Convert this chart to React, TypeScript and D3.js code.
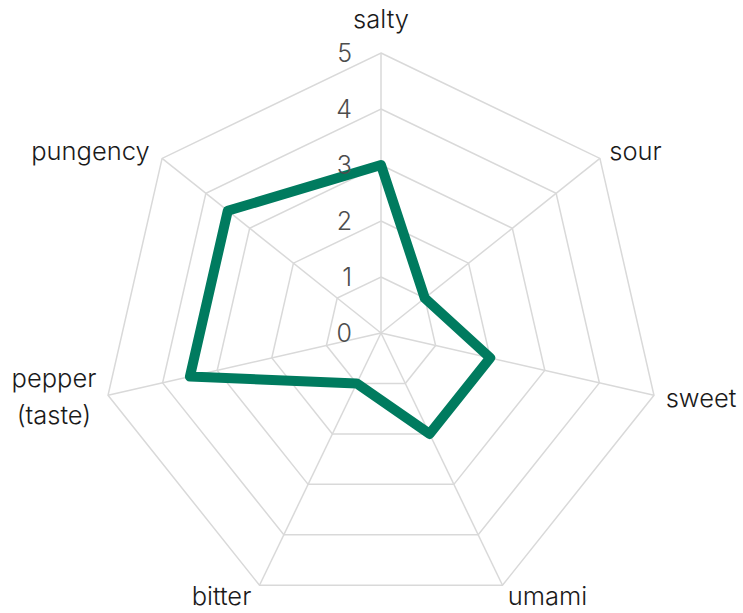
import { useMemo } from "react";
import * as d3 from "d3";

const categories = ["salty", "sour", "sweet", "umami", "bitter", "pepper\n(taste)", "pungency"];
const values = [3, 1, 2, 2, 1, 3.5, 3.5];
const ticks = [0, 1, 2, 3, 4, 5];

const WIDTH = 743;
const HEIGHT = 613;
const FONT = "Inter, 'Noto Sans', sans-serif";

const measureCtx = (() => {
  if (typeof document === "undefined") return null;
  const c = document.createElement("canvas");
  return c.getContext("2d");
})();

function textWidth(s: string, size: number) {
  if (!measureCtx) return s.length * size * 0.55;
  measureCtx.font = `300 ${size}px ${FONT}`;
  return measureCtx.measureText(s).width;
}

export default function App() {
  const cx = 381;
  const cy = 333;
  const radius = 280;
  const r = d3.scaleLinear().domain([0, 5]).range([0, radius]);
  const angle = d3.scalePoint<string>()
    .domain(categories)
    .range([0, (2 * Math.PI * (categories.length - 1)) / categories.length]);

  const pt = (a: number, rr: number): [number, number] => [Math.sin(a) * rr, -Math.cos(a) * rr];

  const ringPath = (v: number) =>
    d3.line()(categories.map(c => pt(angle(c)!, r(v)))) + "Z";

  const dataPath = useMemo(
    () => d3.line()(categories.map((c, i) => pt(angle(c)!, r(values[i])))) + "Z",
    []
  );

  const labelSize = 25.5;
  const lineH = 37;

  return (
    <svg width={WIDTH} height={HEIGHT} style={{ position: "absolute", left: 0, top: 0 }}>
      <g transform={`translate(${cx},${cy})`}>
        {/* grid rings */}
        {ticks.filter(t => t > 0).map(t => (
          <path key={t} d={ringPath(t)} fill="none" stroke="#d9d9d9" strokeWidth={1.5} />
        ))}
        {/* spokes */}
        {categories.map(c => {
          const [x, y] = pt(angle(c)!, radius);
          return <line key={c} x1={0} y1={0} x2={x} y2={y} stroke="#d9d9d9" strokeWidth={1.5} />;
        })}

        {/* series */}
        <path d={dataPath} fill="none" stroke="#007b5f" strokeWidth={10} strokeLinejoin="round" />

        {/* tick labels */}
        {ticks.map(t => (
          <text
            key={t}
            x={-29}
            y={-r(t)}
            dy="0.36em"
            textAnchor="end"
            fontFamily={FONT}
            fontWeight={300}
            fontSize={25}
            fill="#4d4d4d"
          >
            {t}
          </text>
        ))}

        {/* category labels */}
        {categories.map(c => {
          const a = angle(c)!;
          const [x, y] = pt(a, radius + 12);
          const lines = c.split("\n");
          const sx = Math.sin(a);
          const isTop = Math.abs(sx) < 0.01 && Math.cos(a) > 0;
          let anchor: "start" | "end" | "middle" = sx > 0.01 ? "start" : sx < -0.01 ? "end" : "middle";
          let tx = anchor === "end" ? x - 3 : x;
          if (lines.length > 1 && anchor !== "middle") {
            const w = d3.max(lines, l => textWidth(l, labelSize))!;
            tx = anchor === "end" ? x - w / 2 : x + w / 2;
            anchor = "middle";
          }
          const baseY = isTop ? y - 13 : y + 9 - ((lines.length - 1) * lineH) / 2 - (lines.length > 1 ? 1 : 0);
          return (
            <text
              key={c}
              textAnchor={anchor}
              fontFamily={FONT}
              fontWeight={300}
              fontSize={labelSize}
              fill="#1a1a1a"
            >
              {lines.map((l, i) => (
                <tspan key={i} x={tx} y={baseY + i * lineH}>
                  {l}
                </tspan>
              ))}
            </text>
          );
        })}
      </g>
    </svg>
  );
}
